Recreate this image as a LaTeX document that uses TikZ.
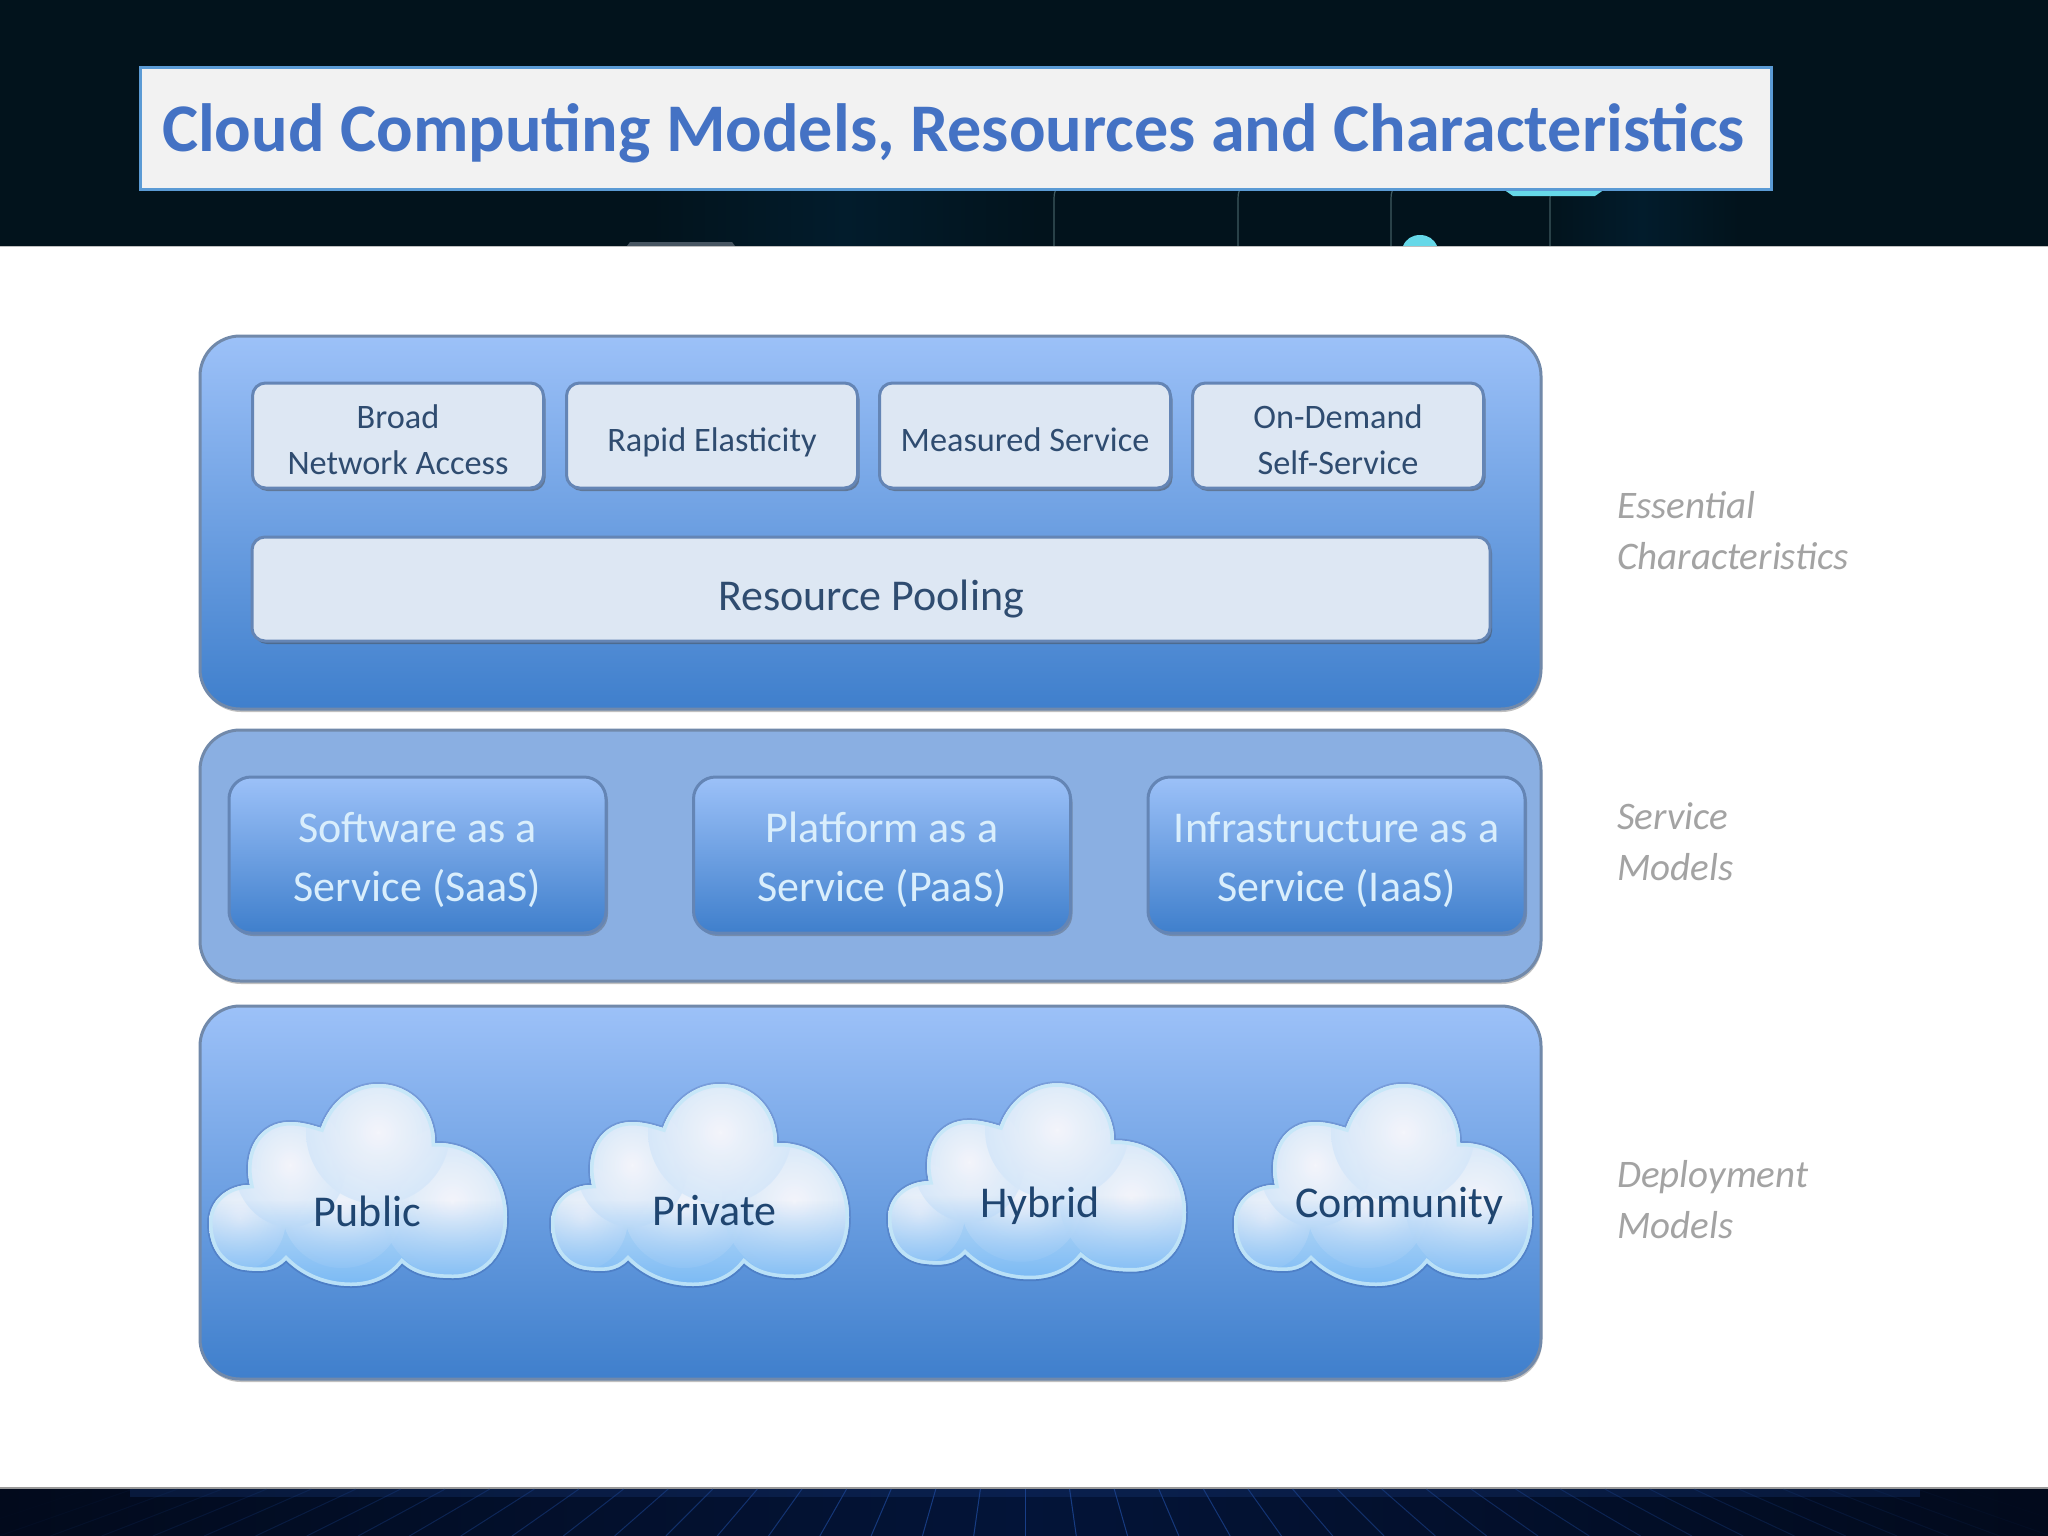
\documentclass[tikz,border=0pt]{standalone}
\usepackage{fontspec}
\setmainfont{Carlito}
\usetikzlibrary{shadows,fadings}
\definecolor{topbg}{HTML}{02131C}
\definecolor{topglow}{HTML}{021C2C}
\definecolor{topline}{HTML}{3F5A60}
\definecolor{topcyan}{HTML}{66D8E8}
\definecolor{botbg}{HTML}{031438}
\definecolor{botedge}{HTML}{020A1C}
\definecolor{gridblue}{HTML}{1B4390}
\definecolor{titleblue}{HTML}{4472C4}
\definecolor{titleedge}{HTML}{5B9BD5}
\definecolor{titlefill}{HTML}{F2F2F2}
\definecolor{panelhi}{HTML}{9CC1F8}
\definecolor{panellow}{HTML}{3F7FCC}
\definecolor{paneledge}{HTML}{7189AA}
\definecolor{midpanel}{HTML}{8AAFE2}
\definecolor{lightbox}{HTML}{DDE7F3}
\definecolor{lightedge}{HTML}{6485B5}
\definecolor{darktext}{HTML}{2F4C70}
\definecolor{svctext}{HTML}{D9EEFC}
\definecolor{cloudtext}{HTML}{1F4570}
\definecolor{sidetext}{HTML}{A3A3A3}
\definecolor{cloudrim}{HTML}{C4E7F8}
\definecolor{cloudlow}{HTML}{6FB4F4}
\definecolor{cloudmid}{HTML}{BEDCF7}
\definecolor{lobea}{HTML}{F4F5FB}
\definecolor{lobeb}{HTML}{CFE4F9}
\pgfdeclareradialshading{lobeshade}{\pgfpoint{0bp}{0bp}}{color(0bp)=(lobea); color(30bp)=(lobeb); color(50bp)=(lobeb)}
\pgfdeclareradialshading{softlobeshade}{\pgfpoint{0bp}{0bp}}{color(0bp)=(pgftransparent!0); color(25bp)=(pgftransparent!10); color(50bp)=(pgftransparent!100)}
\pgfdeclarefading{softlobe}{\pgfuseshading{softlobeshade}}
\tikzfading[name=lowfade, top color=transparent!100, bottom color=transparent!5]
\tikzset{
  softshadow/.style={drop shadow={shadow xshift=1pt,shadow yshift=-3pt,opacity=.35,fill=black!70}},
  panelbox/.style={rectangle,rounded corners=40pt,inner sep=0pt,draw=paneledge,line width=3pt,softshadow},
  gradpanel/.style={panelbox,top color=panelhi,bottom color=panellow},
  flatpanel/.style={panelbox,fill=midpanel},
  lightcell/.style={rectangle,rounded corners=13pt,inner sep=0pt,draw=lightedge,line width=3pt,fill=lightbox,
    drop shadow={shadow xshift=2pt,shadow yshift=-3pt,opacity=.5,fill=black!70},text=darktext,align=center},
  svccell/.style={rectangle,rounded corners=22pt,inner sep=0pt,draw=lightedge,line width=3pt,
    top color=panelhi,bottom color=panellow,
    drop shadow={shadow xshift=2pt,shadow yshift=-3pt,opacity=.35,fill=black!70},text=svctext,align=center},
  cloudlabel/.style={inner sep=0pt,text=cloudtext},
  sidelabel/.style={inner sep=0pt,anchor=west,align=left,text=sidetext},
  lobe/.style={shading=lobeshade,path fading=softlobe},
  glowband/.style={left color=topbg,right color=topbg,middle color=topglow},
}
\newcommand{\smallfont}{\fontsize{34.3}{46}\selectfont}
\newcommand{\poolfont}{\fontsize{44}{50}\selectfont}
\newcommand{\svcfont}{\fontsize{44}{59}\selectfont}
\newcommand{\cloudfont}{\fontsize{44}{50}\selectfont}
\newcommand{\sidefont}{\fontsize{39}{51}\selectfont\itshape}
% text block moved down by #1 from the centre of its box
\newcommand{\lifted}[2]{\smash{\raisebox{\dimexpr-#1-0.25em\relax}{\begin{tabular}{@{}c@{}}#2\end{tabular}}}}
\newcommand{\cloudoutline}{(19,163) .. controls (19,140) and (38,125) .. (60,125)
  .. controls (52,90) and (70,62) .. (100,62) .. controls (113,62) and (124,66) .. (131,68)
  .. controls (140,42) and (162,24) .. (188,24) .. controls (222,24) and (245,50) .. (245,83)
  .. controls (288,82) and (317,115) .. (317,157) .. controls (317,195) and (295,218) .. (263,218)
  .. controls (242,218) and (225,215) .. (212,203) .. controls (200,218) and (182,226) .. (161,226)
  .. controls (135,226) and (112,216) .. (96,200) .. controls (85,212) and (70,212) .. (55,210)
  .. controls (32,207) and (19,188) .. (19,163) -- cycle}
\newcommand{\drawcloud}[3]{%
  \begin{scope}[shift={(#1,#2)},yscale=#3]
    \draw[black!70!blue,opacity=.12,line width=4pt] \cloudoutline;
    \begin{scope}
      \clip \cloudoutline;
      \fill[cloudmid] (10,20) rectangle (325,230);
      \path[lobe] (152,150) ellipse [x radius=60,y radius=58];
      \path[lobe] (50,158) ellipse [x radius=46,y radius=52];
      \path[lobe] (262,142) ellipse [x radius=72,y radius=76];
      \path[lobe] (100,105) ellipse [x radius=56,y radius=62];
      \path[lobe] (188,72) ellipse [x radius=72,y radius=72];
      \fill[cloudlow,path fading=lowfade] (10,140) rectangle (325,235);
      \draw[cloudrim,line width=7pt,opacity=.85] \cloudoutline;
    \end{scope}
  \end{scope}}
\begin{document}
\begin{tikzpicture}[x=1pt,y=-1pt]
\useasboundingbox (0,0) rectangle (2048,1536);
\fill[white] (0,0) rectangle (2048,1536);
% top band
\fill[topbg] (0,0) rectangle (2048,246);
\fill[glowband] (650,190) rectangle (1040,246);
\fill[glowband] (1545,190) rectangle (1740,246);
\foreach \lx in {1054,1238,1391,1550}
  \draw[topline,line width=1.2pt] (\lx+2,189) .. controls (\lx,194) .. (\lx,204) -- (\lx,246);
\fill[topcyan] (1503,189) -- (1605,189) -- (1595,196) -- (1513,196) -- cycle;
\fill[topcyan] (1403,246) .. controls (1406,239) and (1412,235) .. (1420,235) .. controls (1428,235) and (1434,239) .. (1437,246) -- cycle;
\fill[cyan!22!topbg] (627,246) -- (630,242) -- (732,242) -- (735,246) -- cycle;
\draw[black!25,line width=1pt] (0,246.5) -- (2048,246.5);
% bottom band
\fill[left color=botedge,right color=botedge,middle color=botbg] (0,1488) rectangle (2048,1536);
\draw[black!40,line width=1.5pt] (0,1488) -- (2048,1488);
\foreach \i in {-22,...,22}{
  \pgfmathsetmacro{\op}{max(0,0.9-abs(\i)/24)}
  \draw[gridblue,line width=1pt,opacity=\op] (1025+44.6*\i,1489) -- (1025+51.3*\i,1536);
}
\fill[gridblue,opacity=.25] (130,1489) rectangle (1920,1497);
% title
\node[rectangle,draw=titleedge,line width=3pt,fill=titlefill,minimum width=1631pt,minimum height=121pt,inner sep=0pt,
      text=titleblue,font={\fontsize{68.2}{76}\selectfont\bfseries}] (title) at (955.5,128.5)
      {\lifted{-3pt}{\hspace{-4pt}Cloud Computing Models, Resources and Characteristics}};
% panels
\node[gradpanel,minimum width=1341pt,minimum height=373pt] (essential) at (870.5,522.5) {};
\node[flatpanel,minimum width=1341pt,minimum height=251pt] (service) at (870.5,855.5) {};
\node[gradpanel,minimum width=1341pt,minimum height=373pt] (deployment) at (870.5,1192.5) {};
% characteristics
\node[lightcell,minimum width=291pt,minimum height=105pt,font=\smallfont] (broad) at (398,435.5) {\lifted{4pt}{Broad\\Network Access}};
\node[lightcell,minimum width=291pt,minimum height=105pt,font=\smallfont] (rapid) at (712,435.5) {\lifted{4pt}{Rapid Elasticity}};
\node[lightcell,minimum width=291pt,minimum height=105pt,font=\smallfont] (measured) at (1025,435.5) {\lifted{4pt}{Measured Service}};
\node[lightcell,minimum width=291pt,minimum height=105pt,font=\smallfont] (demand) at (1338,435.5) {\lifted{4pt}{On-Demand\\Self-Service}};
\node[lightcell,minimum width=1238pt,minimum height=104pt,font=\poolfont] (pool) at (871,589) {\lifted{6.5pt}{Resource Pooling}};
% services
\node[svccell,minimum width=377pt,minimum height=156pt,font=\svcfont] (saas) at (417.5,855) {\lifted{0pt}{Software as a\\Service (SaaS)}};
\node[svccell,minimum width=377pt,minimum height=156pt,font=\svcfont] (paas) at (882,855) {\lifted{0pt}{Platform as a\\Service (PaaS)}};
\node[svccell,minimum width=377pt,minimum height=156pt,font=\svcfont] (iaas) at (1336.5,855) {\lifted{0pt}{Infrastructure as a\\Service (IaaS)}};
% clouds
\drawcloud{190}{1060}{1}
\drawcloud{532}{1060}{1}
\drawcloud{869}{1060}{0.97}
\drawcloud{1215}{1060}{1}
\node[cloudlabel,font=\cloudfont] (public) at (367,1211) {Public};
\node[cloudlabel,font=\cloudfont] (private) at (714.5,1211) {Private};
\node[cloudlabel,font=\cloudfont] (hybrid) at (1040,1206) {Hybrid};
\node[cloudlabel,font=\cloudfont] (community) at (1399,1206) {Community};
% side labels
\node[sidelabel,font=\sidefont] (sideess) at (1617,531) {Essential\\Characteristics};
\node[sidelabel,font=\sidefont] (sidesvc) at (1617,842) {Service\\Models};
\node[sidelabel,font=\sidefont] (sidedep) at (1617,1200) {Deployment\\Models};
\end{tikzpicture}
\end{document}
